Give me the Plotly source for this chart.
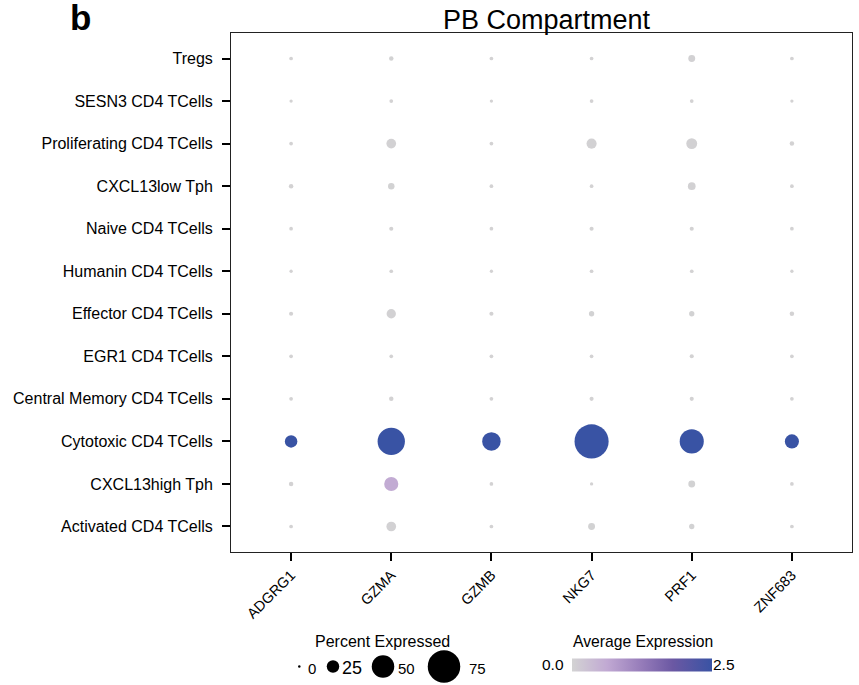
import plotly.graph_objects as go

# ---------------- data ----------------
genes = ["ADGRG1", "GZMA", "GZMB", "NKG7", "PRF1", "ZNF683"]
cell_types = [
    "Tregs",
    "SESN3 CD4 TCells",
    "Proliferating CD4 TCells",
    "CXCL13low Tph",
    "Naive CD4 TCells",
    "Humanin CD4 TCells",
    "Effector CD4 TCells",
    "EGR1 CD4 TCells",
    "Central Memory CD4 TCells",
    "Cytotoxic CD4 TCells",
    "CXCL13high Tph",
    "Activated CD4 TCells",
]
# percent expressed, one list per cell type (columns follow `genes`)
pct_tregs = [3, 5, 3, 3, 11, 3]
pct_sesn3 = [2, 3, 2, 3, 3, 2]
pct_prolif = [3, 18, 3, 19, 21, 5]
pct_cxcl13low = [5, 10, 3, 3, 13, 3]
pct_naive = [3, 4, 3, 4, 4, 3]
pct_humanin = [2, 3, 2, 3, 3, 2]
pct_effector = [4, 17, 4, 7, 7, 5]
pct_egr1 = [3, 3, 3, 3, 4, 3]
pct_central = [3, 5, 3, 4, 4, 3]
pct_cytotoxic = [25, 62, 40, 79, 54, 29]
pct_cxcl13high = [5, 29, 3, 2, 11, 3]
pct_activated = [3, 18, 3, 11, 7, 3]

# average expression, one list per cell type
avg_tregs = [0.01, 0.02, 0.01, 0.01, 0.03, 0.01]
avg_sesn3 = [0.01, 0.01, 0.01, 0.01, 0.01, 0.01]
avg_prolif = [0.01, 0.03, 0.01, 0.03, 0.03, 0.01]
avg_cxcl13low = [0.01, 0.02, 0.01, 0.01, 0.03, 0.01]
avg_naive = [0.01, 0.01, 0.01, 0.01, 0.01, 0.01]
avg_humanin = [0.01, 0.01, 0.01, 0.01, 0.01, 0.01]
avg_effector = [0.01, 0.03, 0.01, 0.02, 0.02, 0.01]
avg_egr1 = [0.01, 0.01, 0.01, 0.01, 0.01, 0.01]
avg_central = [0.01, 0.01, 0.01, 0.01, 0.01, 0.01]
avg_cytotoxic = [2.5, 2.5, 2.5, 2.5, 2.5, 2.5]
avg_cxcl13high = [0.01, 0.6, 0.01, 0.01, 0.02, 0.01]
avg_activated = [0.01, 0.03, 0.01, 0.02, 0.02, 0.01]

size_legend_values = [0, 25, 50, 75]
size_legend_labels = ["0", "25", "50", "75"]
color_min, color_max = 0.0, 2.5
color_tick_labels = ["0.0", "2.5"]

pct_rows = [pct_tregs, pct_sesn3, pct_prolif, pct_cxcl13low, pct_naive, pct_humanin,
            pct_effector, pct_egr1, pct_central, pct_cytotoxic, pct_cxcl13high, pct_activated]
avg_rows = [avg_tregs, avg_sesn3, avg_prolif, avg_cxcl13low, avg_naive, avg_humanin,
            avg_effector, avg_egr1, avg_central, avg_cytotoxic, avg_cxcl13high, avg_activated]

# ---------------- styling ----------------
W, H = 859, 685
FONT = "Liberation Sans, Arial, Helvetica, sans-serif"
colorscale = [
    [0.0, "#d3d3d3"],
    [0.25, "#c1a9d3"],
    [0.5, "#957bb9"],
    [0.72, "#6b58a3"],
    [1.0, "#3953a4"],
]


def dot_size(p):
    return 2.5 + 0.4 * p


xs, ys, sizes, colors = [], [], [], []
for ct, prow, arow in zip(cell_types, pct_rows, avg_rows):
    for g, p, a in zip(genes, prow, arow):
        xs.append(g)
        ys.append(ct)
        sizes.append(dot_size(p))
        colors.append(a)

# plot box in pixels
px_l, px_r, px_t, px_b = 231, 852, 33, 552

fig = go.Figure()
fig.add_trace(go.Scatter(
    x=xs, y=ys, mode="markers",
    marker=dict(
        size=sizes, sizemode="diameter", color=colors,
        colorscale=colorscale, cmin=color_min, cmax=color_max,
        line=dict(width=0), opacity=1,
        colorbar=dict(
            orientation="h", x=642 / W, xanchor="center",
            y=1 - 664.5 / H, yanchor="middle",
            len=140, lenmode="pixels", thickness=13,
            outlinewidth=0, showticklabels=False, ticks="",
            xpad=0, ypad=0,
        ),
    ),
    showlegend=False, hoverinfo="x+y",
))

# size legend on a full-canvas pixel overlay axis
leg_dot_x = [299.3, 333, 383, 444]
leg_y = 666.5
fig.add_trace(go.Scatter(
    x=leg_dot_x, y=[leg_y] * len(size_legend_values), mode="markers",
    marker=dict(size=[dot_size(v) for v in size_legend_values], color="black",
                opacity=1, line=dict(width=0)),
    xaxis="x2", yaxis="y2", showlegend=False, hoverinfo="skip",
))

axis_common = dict(
    showline=True, mirror=True, linecolor="#222222", linewidth=1,
    ticks="outside", ticklen=8, tickwidth=2, tickcolor="black",
    showgrid=False, zeroline=False,
)

fig.update_layout(
    width=W, height=H,
    margin=dict(l=0, r=0, t=0, b=0),
    paper_bgcolor="white", plot_bgcolor="rgba(0,0,0,0)",
    xaxis=dict(
        domain=[px_l / W, px_r / W], type="category",
        categoryorder="array", categoryarray=genes,
        range=[-0.6, 5.6], tickangle=-45,
        tickfont=dict(family=FONT, size=14.5, color="black"), **axis_common,
    ),
    yaxis=dict(
        domain=[1 - px_b / H, 1 - px_t / H], type="category",
        categoryorder="array", categoryarray=cell_types,
        range=[11.6, -0.6], ticklabelstandoff=6,
        tickfont=dict(family=FONT, size=16, color="black"), **axis_common,
    ),
    xaxis2=dict(domain=[0, 1], range=[0, W], visible=False, anchor="y2", fixedrange=True),
    yaxis2=dict(domain=[0, 1], range=[H, 0], visible=False, anchor="x2", fixedrange=True),
)

ann = []
ann.append(dict(text="PB Compartment", x=546.5 / W, y=1 - 19.5 / H, xref="paper", yref="paper",
                xanchor="center", yanchor="middle", showarrow=False,
                font=dict(family=FONT, size=27, color="black")))
ann.append(dict(text="<b>b</b>", x=68 / W, y=1 - 18 / H, xref="paper", yref="paper",
                xanchor="left", yanchor="middle", showarrow=False,
                font=dict(family=FONT, size=35, color="black")))
ann.append(dict(text="Percent Expressed", x=382.5 / W, y=1 - 641 / H, xref="paper", yref="paper",
                xanchor="center", yanchor="middle", showarrow=False,
                font=dict(family=FONT, size=16, color="black")))
ann.append(dict(text="Average Expression", x=642.5 / W, y=1 - 641 / H, xref="paper", yref="paper",
                xanchor="center", yanchor="middle", showarrow=False,
                font=dict(family=FONT, size=15.7, color="black")))
leg_label_x = [305.5, 339.5, 396, 467]
leg_label_size = [15, 18, 15, 15]
for lx, lab, fs in zip(leg_label_x, size_legend_labels, leg_label_size):
    ann.append(dict(text=lab, x=lx / W, y=1 - 668 / H, xref="paper", yref="paper",
                    xanchor="left", yanchor="middle", showarrow=False,
                    font=dict(family=FONT, size=fs, color="black")))
ann.append(dict(text=color_tick_labels[0], x=566 / W, y=1 - 664.5 / H, xref="paper", yref="paper",
                xanchor="right", yanchor="middle", showarrow=False,
                font=dict(family=FONT, size=15.5, color="black")))
ann.append(dict(text=color_tick_labels[1], x=711 / W, y=1 - 664.5 / H, xref="paper", yref="paper",
                xanchor="left", yanchor="middle", showarrow=False,
                font=dict(family=FONT, size=15.5, color="black")))
fig.update_layout(annotations=ann)

fig.write_html(
    "out.html",
    config={"displayModeBar": False},
    post_script="document.body.style.margin='0px';document.body.style.overflow='hidden';",
)
